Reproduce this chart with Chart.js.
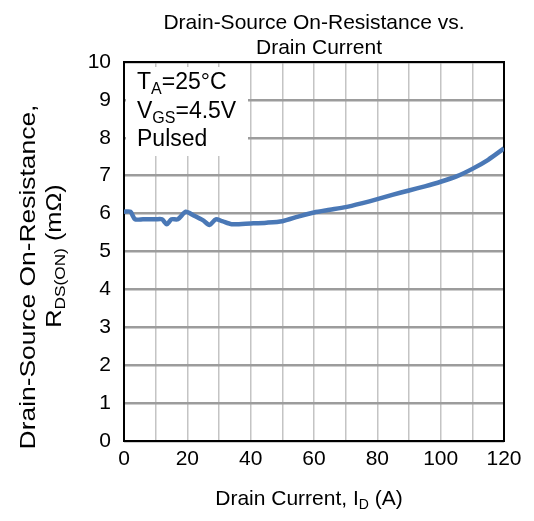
<!DOCTYPE html>
<html>
<head>
<meta charset="utf-8">
<script src="https://cdn.jsdelivr.net/npm/chart.js@4"></script>
<style>
  html, body { margin: 0; padding: 0; background: #fff; }
  #wrap { width: 534px; height: 521px; }
</style>
</head>
<body>
<div id="wrap"><canvas id="c" width="534" height="521"></canvas></div>
<script>
// Drain current (A)
const currents = [0, 2, 3.5, 6, 10, 12, 13.5, 15, 17, 19.5, 22, 25, 27, 29, 31, 34, 40, 45, 50, 55, 60, 65, 70, 75, 80, 85, 90, 95, 100, 105, 110, 115, 120];
// On-resistance (mΩ)
const resistance = [6.05, 6.05, 5.85, 5.85, 5.85, 5.85, 5.72, 5.85, 5.85, 6.05, 5.95, 5.82, 5.7, 5.85, 5.8, 5.72, 5.74, 5.76, 5.8, 5.92, 6.03, 6.1, 6.17, 6.27, 6.38, 6.5, 6.61, 6.72, 6.84, 6.98, 7.18, 7.42, 7.72];
const yTicks = [0, 1, 2, 3, 4, 5, 6, 7, 8, 9, 10];
const xTickLabels = [0, 20, 40, 60, 80, 100, 120];

const FONT = '"Liberation Sans", Arial, sans-serif';

function richWidth(ctx, parts, size) {
  let w = 0;
  for (const p of parts) {
    ctx.font = (p.sub ? Math.round(size * 0.68) : size) + 'px ' + FONT;
    w += ctx.measureText(p.t).width;
  }
  return w;
}
function drawRich(ctx, parts, x, y, size, align) {
  const w = richWidth(ctx, parts, size);
  let cx = align === 'center' ? x - w / 2 : x;
  ctx.textBaseline = 'alphabetic';
  ctx.textAlign = 'left';
  for (const p of parts) {
    const s = p.sub ? Math.round(size * 0.68) : size;
    ctx.font = s + 'px ' + FONT;
    ctx.fillText(p.t, cx, p.sub ? y + size * 0.2 : y);
    cx += ctx.measureText(p.t).width;
  }
}

const decor = {
  id: 'decor',
  beforeDatasetsDraw(chart) {
    const ctx = chart.ctx, a = chart.chartArea;
    ctx.save();
    // white condition box
    ctx.fillStyle = '#fff';
    ctx.fillRect(a.left + 2, a.top + 5, 122, 89);
    ctx.fillStyle = '#000';
    drawRich(ctx, [{t: 'T'}, {t: 'A', sub: true}, {t: '=25°C'}], a.left + 13, a.top + 27, 23, 'left');
    drawRich(ctx, [{t: 'V'}, {t: 'GS', sub: true}, {t: '=4.5V'}], a.left + 13, a.top + 56, 23, 'left');
    drawRich(ctx, [{t: 'Pulsed'}], a.left + 13, a.top + 84, 23, 'left');
    // frame
    ctx.strokeStyle = '#000';
    ctx.lineWidth = 2;
    ctx.strokeRect(a.left, a.top, a.right - a.left, a.bottom - a.top);
    ctx.restore();
  },
  afterDraw(chart) {
    const ctx = chart.ctx;
    ctx.save();
    ctx.fillStyle = '#000';
    // chart title
    drawRich(ctx, [{t: 'Drain-Source On-Resistance vs.'}], 314, 29, 21, 'center');
    drawRich(ctx, [{t: 'Drain Current'}], 319, 54, 21, 'center');
    // x title
    drawRich(ctx, [{t: 'Drain Current, '}, {t: 'I'}, {t: 'D', sub: true}, {t: ' (A)'}], 309, 505, 21, 'center');
    // y title (reference text is stretched along its length)
    ctx.save();
    ctx.translate(35, 277);
    ctx.rotate(-Math.PI / 2);
    ctx.scale(1.2, 1);
    drawRich(ctx, [{t: 'Drain-Source On-Resistance,'}], 0, 0, 22, 'center');
    ctx.restore();
    ctx.save();
    ctx.translate(61, 256);
    ctx.rotate(-Math.PI / 2);
    ctx.scale(1.15, 1);
    drawRich(ctx, [{t: 'R'}, {t: 'DS(ON)', sub: true}, {t: ' (mΩ)'}], 0, 0, 22, 'center');
    ctx.restore();
    ctx.restore();
  }
};

const points = currents.map((x, i) => ({x: x, y: resistance[i]}));

new Chart(document.getElementById('c'), {
  type: 'line',
  data: {
    datasets: [{
      data: points,
      borderColor: '#4a78b6',
      borderWidth: 4.5,
      pointRadius: 0,
      tension: 0.25,
      fill: false
    }]
  },
  options: {
    responsive: false,
    animation: false,
    devicePixelRatio: 1,
    layout: { padding: { left: 0, top: 62, right: 30, bottom: 0 } },
    plugins: { legend: { display: false }, title: { display: false }, tooltip: { enabled: false } },
    scales: {
      x: {
        type: 'linear',
        min: 0, max: 120,
        afterFit(s) { s.height = 80; },
        border: { display: false },
        grid: { color: '#c4c4c4', lineWidth: 1.5, drawTicks: false },
        ticks: {
          stepSize: 10, autoSkip: false, maxRotation: 0, padding: 6,
          color: '#000', font: { size: 21, family: FONT },
          callback: (v) => xTickLabels.includes(v) ? String(v) : ''
        }
      },
      y: {
        min: 0, max: 10,
        afterFit(s) { s.width = 124; },
        border: { display: false },
        grid: { color: '#9c9c9c', lineWidth: 2.5, drawTicks: false },
        afterBuildTicks(s) { s.ticks = yTicks.map(v => ({value: v})); },
        ticks: {
          padding: 13, color: '#000', font: { size: 21, family: FONT }
        }
      }
    }
  },
  plugins: [decor]
});
</script>
</body>
</html>
